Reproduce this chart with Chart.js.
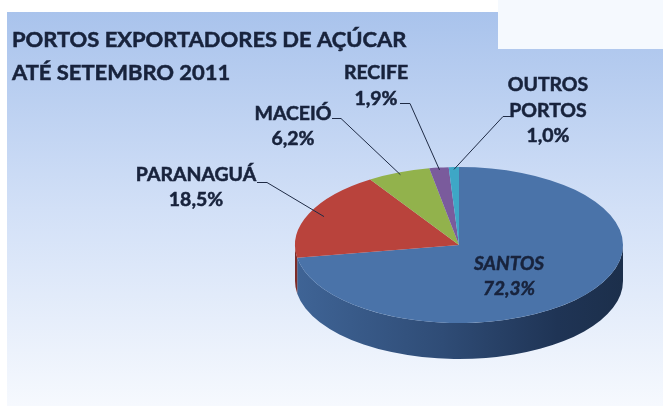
<!DOCTYPE html>
<html>
<head>
<meta charset="utf-8">
<script src="https://cdn.jsdelivr.net/npm/chart.js@4.4.0/dist/chart.umd.min.js"></script>
<style>
  html, body { margin: 0; padding: 0; background: #fff; }
  #wrap { position: relative; width: 663px; height: 409px; overflow: hidden; }
  #panel { position: absolute; left: 7px; top: 12px; width: 656px; height: 394px;
           background: linear-gradient(#a9c3ec, #d2e0f7 50%, #f6f9fe); }
  #corner { position: absolute; left: 498px; top: 0; width: 165px; height: 49px; background: #f5f9fe; }
  #chart { position: absolute; left: 0; top: 0; }
</style>
</head>
<body>
<div id="wrap">
  <div id="panel"></div>
  <div id="corner"></div>
  <canvas id="chart" width="663" height="409"></canvas>
</div>
<script>
const ports = ['SANTOS', 'PARANAGUÁ', 'MACEIÓ', 'RECIFE', 'OUTROS PORTOS'];
const shares = [72.3, 18.5, 6.2, 1.9, 1.0];
const titleLines = ['PORTOS EXPORTADORES DE AÇÚCAR', 'ATÉ SETEMBRO 2011'];

const topColors = ['#4a73a9', '#b9433c', '#92b24c', '#7a5b9c', '#3ea7c6'];
const sideColors = ['#2f4c76', '#7e2c28', '#627a30', '#523d6b', '#2a7188'];

const TILT = 78 / 164;   // vertical squash of the pie
const DEPTH = 36;        // thickness of the pie side
const TEXT = '#18233c';

const pct = v => v.toFixed(1).replace('.', ',') + '%';

// where the outside labels sit (centre x, baselines) and the short tick of each leader
const labelLayout = {
  1: { x: 196, y: [181, 206], tick: [257, 267, 182] },
  2: { x: 293, y: [120, 145], tick: [332, 341, 118] },
  3: { x: 376, y: [79, 105], tick: [400, 410, 103] },
  4: { x: 548, y: [91, 117, 142], tick: [511, 503, 116] }
};

// Calibri-ish: a touch wider and heavier than Lato bold
function drawText(ctx, t, x, y, stretch) {
  ctx.save();
  ctx.translate(x, y);
  ctx.scale(stretch, 1);
  ctx.fillText(t, 0, 0);
  ctx.lineWidth = 0.5;
  ctx.strokeStyle = TEXT;
  ctx.strokeText(t, 0, 0);
  ctx.restore();
}

function sideGradient(ctx, cx, r) {
  const g = ctx.createLinearGradient(cx - r, 0, cx + r, 0);
  g.addColorStop(0, '#3f6496');
  g.addColorStop(0.45, '#2f4c76');
  g.addColorStop(0.8, '#1f3455');
  g.addColorStop(1, '#1c2f4b');
  return g;
}

const pie3d = {
  id: 'pie3d',
  beforeDatasetsDraw(chart) {
    const ctx = chart.ctx;
    const arcs = chart.getDatasetMeta(0).data;
    const { x: cx, y: cy, outerRadius: r } = arcs[0].getProps(['x', 'y', 'outerRadius'], true);
    const ry = r * TILT;
    arcs.forEach((arc, i) => {
      const { startAngle, endAngle } = arc.getProps(['startAngle', 'endAngle'], true);
      const a1 = Math.max(startAngle, 0);
      const a2 = Math.min(endAngle, Math.PI);
      if (a2 <= a1) return;
      ctx.beginPath();
      ctx.ellipse(cx, cy, r, ry, 0, a1, a2);
      ctx.ellipse(cx, cy + DEPTH, r, ry, 0, a2, a1, true);
      ctx.closePath();
      ctx.fillStyle = i === 0 ? sideGradient(ctx, cx, r) : sideColors[i];
      ctx.fill();
    });
    ctx.save();
    ctx.translate(cx, cy);
    ctx.scale(1, TILT);
    ctx.translate(-cx, -cy);
  },
  afterDatasetsDraw(chart) {
    const ctx = chart.ctx;
    ctx.restore();

    const arcs = chart.getDatasetMeta(0).data;
    ctx.save();
    ctx.fillStyle = TEXT;
    ctx.textBaseline = 'alphabetic';

    // title
    ctx.textAlign = 'left';
    ctx.font = 'bold 20.5px Lato';
    drawText(ctx, titleLines[0], 12, 47, 1.07);
    drawText(ctx, titleLines[1], 12, 80, 1.07);
    ctx.textAlign = 'center';

    arcs.forEach((arc, i) => {
      const { x: cx, y: cy, startAngle, endAngle, outerRadius: r } =
        arc.getProps(['x', 'y', 'startAngle', 'endAngle', 'outerRadius'], true);
      const mid = (startAngle + endAngle) / 2;
      if (i === 0) {
        ctx.font = 'italic bold 18px Lato';
        drawText(ctx, ports[0], 509, 270, 1.06);
        drawText(ctx, pct(shares[0]), 509, 295, 1.06);
        return;
      }
      const L = labelLayout[i];
      const lines = ports[i].split(' ').concat([pct(shares[i])]);
      ctx.font = 'bold 18px Lato';
      lines.forEach((t, k) => drawText(ctx, t, L.x, L.y[k], 1.08));
      const f = i === 1 ? 0.9 : 0.97;
      const ex = cx + r * f * Math.cos(mid);
      const ey = cy + r * TILT * f * Math.sin(mid);
      ctx.beginPath();
      ctx.strokeStyle = '#1f2b45';
      ctx.lineWidth = 1;
      ctx.moveTo(L.tick[0], L.tick[2] + 0.5);
      ctx.lineTo(L.tick[1], L.tick[2] + 0.5);
      ctx.lineTo(ex, ey);
      ctx.stroke();
    });
    ctx.restore();
  }
};

new Chart(document.getElementById('chart'), {
  type: 'pie',
  data: {
    labels: ports,
    datasets: [{
      data: shares,
      backgroundColor: topColors,
      borderWidth: 0,
      hoverOffset: 0,
      radius: 164,
      clip: false
    }]
  },
  options: {
    responsive: false,
    animation: false,
    events: [],
    layout: { padding: { left: 295, right: 40, top: 81, bottom: 0 } },
    plugins: {
      legend: { display: false },
      title: { display: false },
      tooltip: { enabled: false }
    }
  },
  plugins: [pie3d]
});
</script>
</body>
</html>
